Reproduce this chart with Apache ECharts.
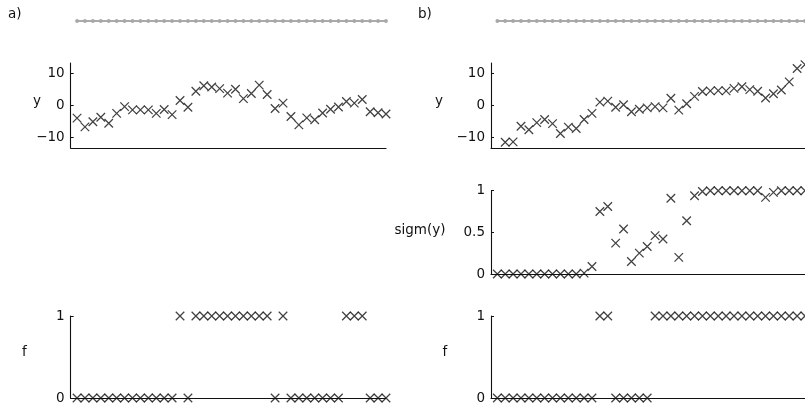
<!DOCTYPE html>
<html>
<head>
<meta charset="utf-8">
<script src="https://cdn.jsdelivr.net/npm/echarts@6/dist/echarts.min.js"></script>
<style>html,body{margin:0;padding:0;background:#fff}#c{width:805px;height:410px}</style>
</head>
<body>
<div id="c"></div>
<script>
// time steps (x positions of the chain nodes)
const steps = [1,2,3,4,5,6,7,8,9,10,11,12,13,14,15,16,17,18,19,20,21,22,23,24,25,26,27,28,29,30,31,32,33,34,35,36,37,38,39,40];
const chainLevel = [0,0,0,0,0,0,0,0,0,0,0,0,0,0,0,0,0,0,0,0,0,0,0,0,0,0,0,0,0,0,0,0,0,0,0,0,0,0,0,0];

// panel a)
const yA = [-3.9,-6.6,-5.0,-3.6,-5.5,-2.4,-0.3,-1.3,-1.3,-1.3,-2.4,-1.2,-2.8,1.6,-0.5,4.5,6.2,5.8,5.3,3.9,
            5.1,2.2,3.8,6.4,3.5,-0.9,0.8,-3.4,-6.0,-3.8,-4.4,-2.3,-1.1,-0.4,1.3,0.8,1.9,-1.9,-2.2,-2.6];
const fA = [0,0,0,0,0,0,0,0,0,0,0,0,0,1,0,1,1,1,1,1,1,1,1,1,1,0,1,0,0,0,0,0,0,0,1,1,1,0,0,0];

// panel b)
const yB = [-14.5,-11.4,-11.3,-6.4,-7.5,-5.3,-4.3,-5.6,-8.7,-6.7,-7.1,-4.3,-2.4,1.1,1.4,-0.5,0.3,-1.9,-1.1,-0.7,
            -0.3,-0.7,2.3,-1.4,0.6,2.9,4.4,4.6,4.7,4.6,5.4,5.9,5.0,4.5,2.4,3.7,4.9,7.4,11.6,12.8];
const sigmB = [0,0,0,0,0,0,0,0,0,0,0,0.01,0.09,0.75,0.81,0.37,0.54,0.15,0.25,0.33,
               0.46,0.42,0.91,0.2,0.64,0.94,0.99,1,1,1,1,1,1,1,0.92,0.98,1,1,1,1];
const fB = [0,0,0,0,0,0,0,0,0,0,0,0,0,1,1,0,0,0,0,0,1,1,1,1,1,1,1,1,1,1,1,1,1,1,1,1,1,1,1,1];

// tick labels
const yTicks = [-10, 0, 10];
const sigmTicks = [0, 0.5, 1];
const fTicks = [0, 1];

const FONT = 'DejaVu Sans';
const FS = 13.5;
const INK = '#111';
const pair = (vals) => steps.map((s, i) => [s, vals[i]]);
const fmt = v => (v < 0 ? '\u2212' + Math.abs(v) : String(v));

const AL = 70.7, BL = 491, W = 315.3;
const grids = [
  {left: AL, top: 11, width: W, height: 20},     // 0 a chain
  {left: AL, top: 63, width: W, height: 85},     // 1 a y
  {left: AL, top: 316, width: W, height: 82},    // 2 a f
  {left: BL, top: 11, width: W, height: 20},     // 3 b chain
  {left: BL, top: 63, width: W, height: 85},     // 4 b y
  {left: BL, top: 190.7, width: W, height: 83.3},// 5 b sigm
  {left: BL, top: 316, width: W, height: 82}     // 6 b f
];

function xAx(gi, show) {
  return {type: 'value', gridIndex: gi, min: 0.2, max: 40,
    axisLine: {show: show, onZero: false, lineStyle: {color: INK, width: 1.1}},
    axisTick: {show: false}, axisLabel: {show: false}, splitLine: {show: false}};
}
function yAx(gi, min, max, ticks, show) {
  return {type: 'value', gridIndex: gi, min: min, max: max,
    axisLine: {show: show, onZero: false, lineStyle: {color: INK, width: 1.1}},
    axisTick: {show: show, inside: true, length: 3, lineStyle: {color: INK}, customValues: ticks || []},
    axisLabel: {show: show, margin: 6, color: INK, fontFamily: FONT, fontSize: FS,
      customValues: ticks || [], formatter: fmt},
    splitLine: {show: false}};
}

const xAxes = [xAx(0,false), xAx(1,true), xAx(2,true), xAx(3,false), xAx(4,true), xAx(5,true), xAx(6,true)];
const yAxes = [
  yAx(0, -1, 1, null, false),
  yAx(1, -13.2, 13.3, yTicks, true),
  yAx(2, 0, 1, fTicks, true),
  yAx(3, -1, 1, null, false),
  yAx(4, -13.2, 13.3, yTicks, true),
  yAx(5, 0, 1, sigmTicks, true),
  yAx(6, 0, 1, fTicks, true)
];

const CROSS = 'path://M0,0L10,10M10,0L0,10';
function crosses(gi, vals) {
  return {type: 'scatter', xAxisIndex: gi, yAxisIndex: gi, data: pair(vals),
    symbol: CROSS, symbolSize: 8.5, clip: true, silent: true,
    itemStyle: {color: 'rgba(0,0,0,0)', borderColor: INK, borderWidth: 1.25}};
}
function chain(gi) {
  return {type: 'line', xAxisIndex: gi, yAxisIndex: gi, data: pair(chainLevel),
    symbol: 'circle', symbolSize: 3.8, showSymbol: true, silent: true,
    lineStyle: {color: '#8e8e8e', width: 1.6},
    itemStyle: {color: '#a8a8a8', borderWidth: 0}};
}

const txt = (x, y, s, align) => ({type: 'text', x: x, y: y,
  style: {text: s, fill: INK, font: FS + 'px "' + FONT + '"', textAlign: align || 'center', textVerticalAlign: 'middle'}});

const chart = echarts.init(document.getElementById('c'), null, {renderer: 'canvas'});
chart.setOption({
  animation: false,
  backgroundColor: '#fff',
  grid: grids,
  xAxis: xAxes,
  yAxis: yAxes,
  series: [
    chain(0), crosses(1, yA), crosses(2, fA),
    chain(3), crosses(4, yB), crosses(5, sigmB), crosses(6, fB)
  ],
  graphic: [
    txt(8, 14, 'a)', 'left'),
    txt(418, 14, 'b)', 'left'),
    txt(37, 101, 'y'),
    txt(439, 101, 'y'),
    txt(24.5, 352, 'f'),
    txt(445, 352, 'f'),
    txt(420, 230, 'sigm(y)')
  ]
});
</script>
</body>
</html>
